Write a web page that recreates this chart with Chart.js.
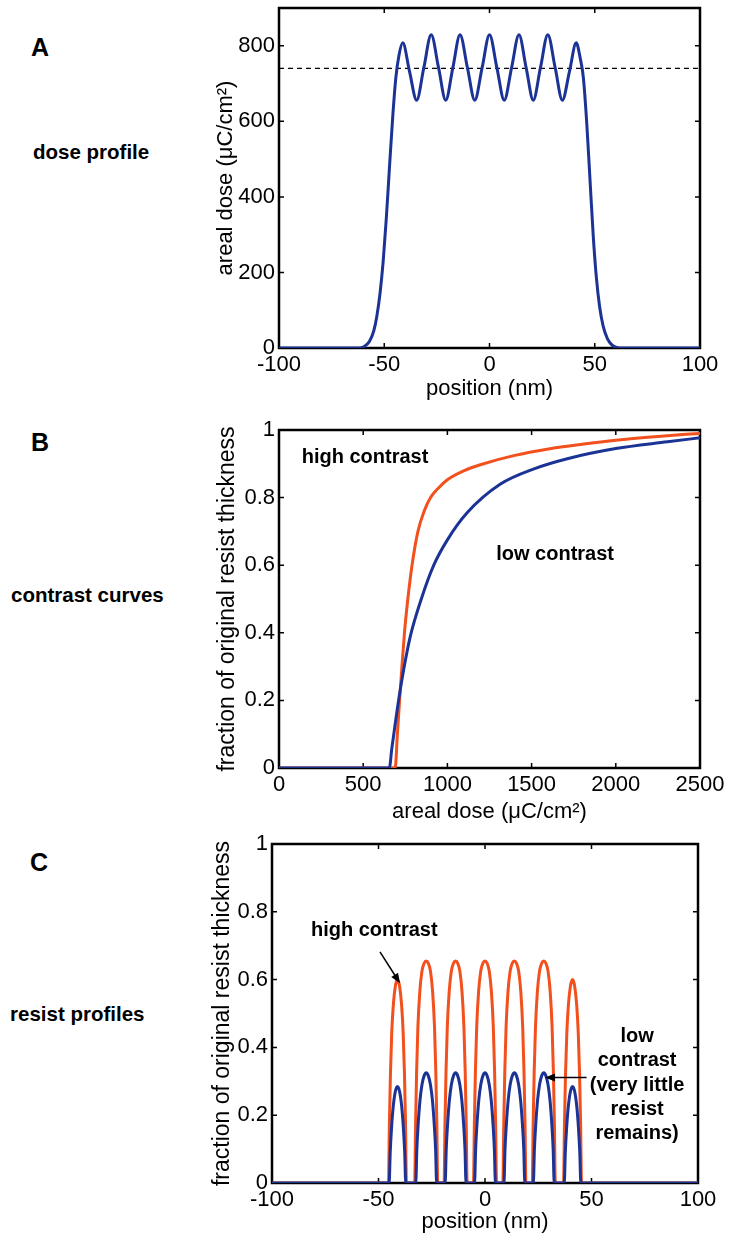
<!DOCTYPE html>
<html>
<head>
<meta charset="utf-8">
<script src="https://cdn.jsdelivr.net/npm/chart.js@4.4.0/dist/chart.umd.min.js"></script>
<style>
  body { margin: 0; background: #fff; width: 730px; height: 1236px; position: relative; overflow: hidden;
         font-family: "Liberation Sans", Arial, sans-serif; }
  canvas { position: absolute; left: 0; }
  .lbl { position: absolute; font-weight: bold; color: #000; line-height: 1; white-space: nowrap; }
</style>
</head>
<body>
<div class="lbl" style="left:31px;top:35px;font-size:25px">A</div>
<div class="lbl" style="left:33px;top:142px;font-size:20.5px">dose profile</div>
<div class="lbl" style="left:31px;top:430px;font-size:25px">B</div>
<div class="lbl" style="left:11px;top:585px;font-size:20.5px">contrast curves</div>
<div class="lbl" style="left:30px;top:850px;font-size:25px">C</div>
<div class="lbl" style="left:10px;top:1004px;font-size:20.5px">resist profiles</div>

<canvas id="chartA" width="730" height="410" style="top:0px"></canvas>
<canvas id="chartB" width="730" height="425" style="top:405px"></canvas>
<canvas id="chartC" width="730" height="416" style="top:820px"></canvas>

<script>
// A: dose profile
const doseX = [-100, -62, -59.5, -57, -55, -53.5, -52, -50.5, -49, -47.5, -46, -44.5, -43, -41.2, -38, -34.6,
  -31.2, -27.7, -24.2, -20.8, -17.4, -14, -10.5, -7, -3.5, 0, 3.5, 7, 10.5, 14, 17.4, 20.8, 24.2, 27.7,
  31.2, 34.6, 38, 41.2, 43, 44.6, 46.2, 47.7, 49.3, 50.8, 52.3, 54, 56, 58, 60, 62, 100];
const doseY = [0, 0, 4, 18, 45, 85, 145, 230, 345, 480, 610, 715, 775, 808, 732, 656,
  742, 829, 742, 656, 742, 829, 742, 656, 742, 829, 742, 656, 742, 829, 742, 656, 742, 829,
  742, 656, 732, 808, 770, 715, 595, 450, 295, 185, 110, 58, 25, 9, 2, 0, 0];
const doseThreshold = 740;
const xTicksA = [-100, -50, 0, 50, 100];
const yTicksA = [0, 200, 400, 600, 800];

// B: contrast curves
const doseHigh = [0, 690, 703, 716, 730, 745, 765, 790, 825, 862, 900, 950, 1000, 1100, 1200, 1400, 1600, 1800, 2000, 2250, 2500];
const thickHigh = [0, 0, 0.1, 0.2, 0.3, 0.4, 0.5, 0.6, 0.7, 0.76, 0.8, 0.83, 0.853, 0.88, 0.898, 0.925, 0.944, 0.958, 0.97, 0.981, 0.99];
const doseLow = [0, 655, 670, 690, 710, 740, 780, 845, 919, 1000, 1117, 1315, 1514, 1712, 2000, 2307, 2500];
const thickLow = [0, 0, 0.058, 0.13, 0.2, 0.29, 0.39, 0.5, 0.6, 0.675, 0.755, 0.84, 0.885, 0.915, 0.945, 0.965, 0.977];
const xTicksB = [0, 500, 1000, 1500, 2000, 2500];
const yTicksB = [0, 0.2, 0.4, 0.6, 0.8, 1];

// C: resist profiles
const posHigh = [-100,
  -45.3, -44.9, -44.4, -43.8, -43.1, -42.1, -41.1, -40.1, -39.1, -38.4, -37.8, -37.3, -36.9,
  -33.0, -32.6, -32.1, -31.5, -30.6, -29.6, -28.6, -27.6, -26.6, -25.6, -24.6, -23.7, -23.1, -22.6, -22.2,
  -19.2, -18.8, -18.3, -17.7, -16.8, -15.8, -14.8, -13.8, -12.8, -11.8, -10.8, -9.9, -9.3, -8.8, -8.4,
  -5.4, -5.0, -4.5, -3.9, -3.0, -2.0, -1.0, 0, 1.0, 2.0, 3.0, 3.9, 4.5, 5.0, 5.4,
  8.4, 8.8, 9.3, 9.9, 10.8, 11.8, 12.8, 13.8, 14.8, 15.8, 16.8, 17.7, 18.3, 18.8, 19.2,
  22.2, 22.6, 23.1, 23.7, 24.6, 25.6, 26.6, 27.6, 28.6, 29.6, 30.6, 31.5, 32.1, 32.6, 33.0,
  36.9, 37.3, 37.8, 38.4, 39.1, 40.1, 41.1, 42.1, 43.1, 43.8, 44.4, 44.9, 45.3,
  100];
const resistHigh = [0,
  0, 0.17, 0.32, 0.44, 0.52, 0.58, 0.6, 0.58, 0.52, 0.44, 0.32, 0.17, 0,
  0, 0.17, 0.33, 0.46, 0.565, 0.625, 0.648, 0.655, 0.648, 0.625, 0.565, 0.46, 0.33, 0.17, 0,
  0, 0.17, 0.33, 0.46, 0.565, 0.625, 0.648, 0.655, 0.648, 0.625, 0.565, 0.46, 0.33, 0.17, 0,
  0, 0.17, 0.33, 0.46, 0.565, 0.625, 0.648, 0.655, 0.648, 0.625, 0.565, 0.46, 0.33, 0.17, 0,
  0, 0.17, 0.33, 0.46, 0.565, 0.625, 0.648, 0.655, 0.648, 0.625, 0.565, 0.46, 0.33, 0.17, 0,
  0, 0.17, 0.33, 0.46, 0.565, 0.625, 0.648, 0.655, 0.648, 0.625, 0.565, 0.46, 0.33, 0.17, 0,
  0, 0.17, 0.32, 0.44, 0.52, 0.58, 0.6, 0.58, 0.52, 0.44, 0.32, 0.17, 0,
  0];
const posLow = [-100,
  -45.0, -44.5, -43.9, -43.1, -42.1, -41.1, -40.1, -39.1, -38.3, -37.7, -37.2,
  -32.5, -32.0, -31.4, -30.5, -29.6, -28.6, -27.6, -26.6, -25.6, -24.7, -23.8, -23.2, -22.7,
  -18.7, -18.2, -17.6, -16.7, -15.8, -14.8, -13.8, -12.8, -11.8, -10.9, -10.0, -9.4, -8.9,
  -4.9, -4.4, -3.8, -2.9, -2.0, -1.0, 0, 1.0, 2.0, 2.9, 3.8, 4.4, 4.9,
  8.9, 9.4, 10.0, 10.9, 11.8, 12.8, 13.8, 14.8, 15.8, 16.7, 17.6, 18.2, 18.7,
  22.7, 23.2, 23.8, 24.7, 25.6, 26.6, 27.6, 28.6, 29.6, 30.5, 31.4, 32.0, 32.5,
  37.2, 37.7, 38.3, 39.1, 40.1, 41.1, 42.1, 43.1, 43.9, 44.5, 45.0,
  100];
const resistLow = [0,
  0, 0.09, 0.16, 0.225, 0.27, 0.285, 0.27, 0.225, 0.16, 0.09, 0,
  0, 0.1, 0.17, 0.245, 0.29, 0.316, 0.325, 0.316, 0.29, 0.245, 0.17, 0.1, 0,
  0, 0.1, 0.17, 0.245, 0.29, 0.316, 0.325, 0.316, 0.29, 0.245, 0.17, 0.1, 0,
  0, 0.1, 0.17, 0.245, 0.29, 0.316, 0.325, 0.316, 0.29, 0.245, 0.17, 0.1, 0,
  0, 0.1, 0.17, 0.245, 0.29, 0.316, 0.325, 0.316, 0.29, 0.245, 0.17, 0.1, 0,
  0, 0.1, 0.17, 0.245, 0.29, 0.316, 0.325, 0.316, 0.29, 0.245, 0.17, 0.1, 0,
  0, 0.09, 0.16, 0.225, 0.27, 0.285, 0.27, 0.225, 0.16, 0.09, 0,
  0];
const xTicksC = [-100, -50, 0, 50, 100];
const yTicksC = [0, 0.2, 0.4, 0.6, 0.8, 1];

const BLUE = "#1c3396";
const RED = "#f2501c";
const FONT = '"Liberation Sans", Arial, sans-serif';

function pts(xs, ys) {
  return xs.map((x, i) => ({ x: x, y: ys[i] }));
}

// matlab style box with inward ticks
const frame = {
  id: "frame",
  beforeDatasetsDraw(chart) {
    const { ctx, chartArea: a, scales } = chart;
    const x = scales.x, y = scales.y;
    ctx.save();
    ctx.strokeStyle = "#000";
    ctx.lineWidth = 1.5;
    ctx.beginPath();
    x.ticks.forEach(t => {
      const px = x.getPixelForValue(t.value);
      ctx.moveTo(px, a.bottom); ctx.lineTo(px, a.bottom - 5);
      ctx.moveTo(px, a.top); ctx.lineTo(px, a.top + 5);
    });
    y.ticks.forEach(t => {
      const py = y.getPixelForValue(t.value);
      ctx.moveTo(a.left, py); ctx.lineTo(a.left + 5, py);
      ctx.moveTo(a.right, py); ctx.lineTo(a.right - 5, py);
    });
    ctx.stroke();
    ctx.lineWidth = 2.5;
    ctx.strokeRect(a.left, a.top, a.right - a.left, a.bottom - a.top);
    ctx.restore();
  }
};

// text and arrows placed in data coordinates
const notes = {
  id: "notes",
  afterDatasetsDraw(chart, args, opts) {
    const { ctx, scales } = chart;
    const x = scales.x, y = scales.y;
    ctx.save();
    ctx.fillStyle = "#000";
    ctx.strokeStyle = "#000";
    ctx.font = "bold 20px " + FONT;
    ctx.textBaseline = "alphabetic";
    (opts.texts || []).forEach(n => {
      ctx.textAlign = n.align || "left";
      ctx.fillText(n.text, x.getPixelForValue(n.x), y.getPixelForValue(n.y));
    });
    (opts.arrows || []).forEach(ar => {
      const x1 = x.getPixelForValue(ar.from[0]), y1 = y.getPixelForValue(ar.from[1]);
      const x2 = x.getPixelForValue(ar.to[0]), y2 = y.getPixelForValue(ar.to[1]);
      const ang = Math.atan2(y2 - y1, x2 - x1);
      ctx.lineWidth = 1.5;
      ctx.beginPath();
      ctx.moveTo(x1, y1);
      ctx.lineTo(x2 - 6 * Math.cos(ang), y2 - 6 * Math.sin(ang));
      ctx.stroke();
      ctx.beginPath();
      ctx.moveTo(x2, y2);
      ctx.lineTo(x2 - 10 * Math.cos(ang) + 4 * Math.sin(ang), y2 - 10 * Math.sin(ang) - 4 * Math.cos(ang));
      ctx.lineTo(x2 - 10 * Math.cos(ang) - 4 * Math.sin(ang), y2 - 10 * Math.sin(ang) + 4 * Math.cos(ang));
      ctx.closePath();
      ctx.fill();
    });
    ctx.restore();
  }
};

function panel(id, c) {
  return new Chart(document.getElementById(id), {
    type: "line",
    data: { datasets: c.datasets },
    options: {
      responsive: false,
      animation: false,
      devicePixelRatio: 1,
      layout: { padding: c.pad },
      elements: {
        point: { radius: 0 },
        line: { cubicInterpolationMode: "monotone", borderWidth: 3 }
      },
      plugins: {
        legend: { display: false },
        tooltip: { enabled: false },
        notes: c.notes || {}
      },
      scales: {
        x: {
          type: "linear",
          min: c.xTicks[0],
          max: c.xTicks[c.xTicks.length - 1],
          grid: { display: false, drawTicks: false },
          border: { display: false },
          ticks: { color: "#000", font: { family: FONT, size: 22 }, padding: 4, maxRotation: 0,
                   autoSkip: false, callback: v => String(v) },
          title: { display: true, text: c.xTitle, color: "#000", padding: 0,
                   font: { family: FONT, size: 22 } },
          afterBuildTicks: s => { s.ticks = c.xTicks.map(v => ({ value: v })); },
          afterFit: s => { s.height = c.xH; s.paddingLeft = 0; s.paddingRight = 0; }
        },
        y: {
          type: "linear",
          min: c.yMin,
          max: c.yMax,
          grid: { display: false, drawTicks: false },
          border: { display: false },
          ticks: { color: "#000", font: { family: FONT, size: 22 }, padding: 4,
                   autoSkip: false, callback: v => String(v) },
          title: { display: true, text: c.yTitle, color: "#000", padding: 0,
                   font: { family: FONT, size: c.yTitleSize } },
          afterBuildTicks: s => { s.ticks = c.yTicks.map(v => ({ value: v })); },
          afterFit: s => { s.width = c.yW; s.paddingTop = 0; s.paddingBottom = 0; }
        }
      }
    },
    plugins: [frame, notes]
  });
}

panel("chartA", {
  pad: { left: 213, right: 30, top: 8, bottom: 8 },
  yW: 66, xH: 54,
  xTicks: xTicksA, yTicks: yTicksA, yMin: 0, yMax: 900,
  xTitle: "position (nm)", yTitle: "areal dose (\u03bcC/cm\u00b2)", yTitleSize: 22,
  datasets: [
    { data: pts(doseX, doseY), borderColor: BLUE },
    { data: pts([xTicksA[0], xTicksA[xTicksA.length - 1]], [doseThreshold, doseThreshold]),
      borderColor: "#000", borderWidth: 1.3, borderDash: [5, 4], cubicInterpolationMode: "default", tension: 0 }
  ]
});

panel("chartB", {
  pad: { left: 214, right: 30, top: 25, bottom: 5 },
  yW: 65, xH: 57,
  xTicks: xTicksB, yTicks: yTicksB, yMin: 0, yMax: 1,
  xTitle: "areal dose (\u03bcC/cm\u00b2)", yTitle: "fraction of original resist thickness", yTitleSize: 23,
  datasets: [
    { data: pts(doseLow, thickLow), borderColor: BLUE },
    { data: pts(doseHigh, thickHigh), borderColor: RED }
  ],
  notes: {
    texts: [
      { text: "high contrast", x: 135, y: 0.902 },
      { text: "low contrast", x: 1290, y: 0.615 }
    ]
  }
});

panel("chartC", {
  pad: { left: 209, right: 32, top: 24, bottom: 1 },
  yW: 63, xH: 52,
  xTicks: xTicksC, yTicks: yTicksC, yMin: 0, yMax: 1,
  xTitle: "position (nm)", yTitle: "fraction of original resist thickness", yTitleSize: 23,
  datasets: [
    { data: pts(posLow, resistLow), borderColor: BLUE },
    { data: pts(posHigh, resistHigh), borderColor: RED }
  ],
  notes: {
    texts: [
      { text: "high contrast", x: -81.7, y: 0.729 },
      { text: "low", x: 71.4, y: 0.416, align: "center" },
      { text: "contrast", x: 71.4, y: 0.345, align: "center" },
      { text: "(very little", x: 71.4, y: 0.271, align: "center" },
      { text: "resist", x: 71.4, y: 0.2, align: "center" },
      { text: "remains)", x: 71.4, y: 0.13, align: "center" }
    ],
    arrows: [
      { from: [-49.3, 0.682], to: [-39.9, 0.589] },
      { from: [47.7, 0.311], to: [28.2, 0.311] }
    ]
  }
});
</script>
</body>
</html>
